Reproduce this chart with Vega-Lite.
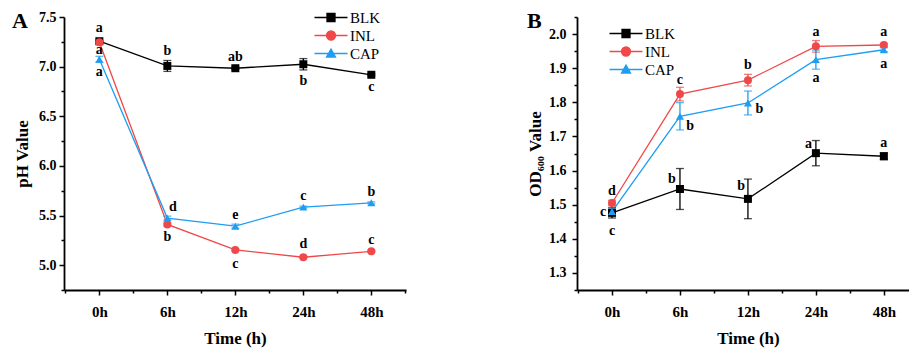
{
  "$schema": "https://vega.github.io/schema/vega-lite/v6.json",
  "background": "white",
  "padding": {"left": 12, "top": 10, "right": 0, "bottom": 4},
  "bounds": "flush",
  "spacing": 171,
  "datasets": {
    "ph": [
      {"series": "BLK", "t": 0, "value": 7.256, "sd": 0.01},
      {"series": "BLK", "t": 1, "value": 7.007, "sd": 0.055},
      {"series": "BLK", "t": 2, "value": 6.984, "sd": 0.01},
      {"series": "BLK", "t": 3, "value": 7.024, "sd": 0.057},
      {"series": "BLK", "t": 4, "value": 6.918, "sd": 0.01},
      {"series": "INL", "t": 0, "value": 7.246, "sd": 0.01},
      {"series": "INL", "t": 1, "value": 5.41, "sd": 0.015},
      {"series": "INL", "t": 2, "value": 5.154, "sd": 0.01},
      {"series": "INL", "t": 3, "value": 5.08, "sd": 0.01},
      {"series": "INL", "t": 4, "value": 5.14, "sd": 0.01},
      {"series": "CAP", "t": 0, "value": 7.074, "sd": 0.03},
      {"series": "CAP", "t": 1, "value": 5.474, "sd": 0.02},
      {"series": "CAP", "t": 2, "value": 5.393, "sd": 0.02},
      {"series": "CAP", "t": 3, "value": 5.585, "sd": 0.01},
      {"series": "CAP", "t": 4, "value": 5.628, "sd": 0.01}
    ],
    "od": [
      {"series": "BLK", "t": 0, "value": 1.476, "sd": 0.015},
      {"series": "BLK", "t": 1, "value": 1.546, "sd": 0.06},
      {"series": "BLK", "t": 2, "value": 1.517, "sd": 0.058},
      {"series": "BLK", "t": 3, "value": 1.651, "sd": 0.037},
      {"series": "BLK", "t": 4, "value": 1.642, "sd": 0.01},
      {"series": "INL", "t": 0, "value": 1.505, "sd": 0.008},
      {"series": "INL", "t": 1, "value": 1.824, "sd": 0.02},
      {"series": "INL", "t": 2, "value": 1.865, "sd": 0.017},
      {"series": "INL", "t": 3, "value": 1.964, "sd": 0.017},
      {"series": "INL", "t": 4, "value": 1.968, "sd": 0.005},
      {"series": "CAP", "t": 0, "value": 1.48, "sd": 0.01},
      {"series": "CAP", "t": 1, "value": 1.759, "sd": 0.04},
      {"series": "CAP", "t": 2, "value": 1.798, "sd": 0.035},
      {"series": "CAP", "t": 3, "value": 1.925, "sd": 0.028},
      {"series": "CAP", "t": 4, "value": 1.954, "sd": 0.006}
    ],
    "phLabels": [
      {"t": 0, "value": 7.39, "letter": "a"},
      {"t": 0, "value": 7.165, "letter": "a"},
      {"t": 0, "value": 6.947, "letter": "a"},
      {"t": 1, "value": 7.158, "letter": "b"},
      {"t": 2, "value": 7.098, "letter": "ab"},
      {"t": 3, "value": 6.853, "letter": "b"},
      {"t": 4, "value": 6.795, "letter": "c"},
      {"t": 1, "value": 5.282, "letter": "b"},
      {"t": 2, "value": 5.013, "letter": "c"},
      {"t": 3, "value": 5.215, "letter": "d"},
      {"t": 4, "value": 5.249, "letter": "c"},
      {"t": 1.08, "value": 5.585, "letter": "d"},
      {"t": 2, "value": 5.501, "letter": "e"},
      {"t": 3, "value": 5.696, "letter": "c"},
      {"t": 4, "value": 5.736, "letter": "b"}
    ],
    "odLabels": [
      {"t": 0, "value": 1.541, "letter": "d"},
      {"t": -0.13, "value": 1.478, "letter": "c"},
      {"t": 0, "value": 1.422, "letter": "c"},
      {"t": 0.88, "value": 1.575, "letter": "b"},
      {"t": 1.9, "value": 1.554, "letter": "b"},
      {"t": 2.89, "value": 1.678, "letter": "a"},
      {"t": 4, "value": 1.681, "letter": "a"},
      {"t": 1, "value": 1.866, "letter": "c"},
      {"t": 2, "value": 1.909, "letter": "b"},
      {"t": 3, "value": 2.007, "letter": "a"},
      {"t": 4, "value": 2.007, "letter": "a"},
      {"t": 1.15, "value": 1.73, "letter": "b"},
      {"t": 2.17, "value": 1.779, "letter": "b"},
      {"t": 3, "value": 1.871, "letter": "a"},
      {"t": 4, "value": 1.912, "letter": "a"}
    ]
  },
  "hconcat": [
    {
      "width": 342,
      "height": 273,
      "title": {"text": "A", "anchor": "start", "frame": "group", "dx": -52, "offset": 0, "dy": 40, "baseline": "alphabetic", "fontSize": 22, "fontWeight": "bold", "font": "Liberation Serif", "color": "black"},
      "data": {"name": "ph"},
      "encoding": {
        "x": {"field": "t", "type": "quantitative", "scale": {"domain": [-0.52, 4.51], "nice": false, "zero": false},
          "axis": {"title": "Time (h)", "values": [-0.5, 0, 0.5, 1, 1.5, 2, 2.5, 3, 3.5, 4, 4.5],
            "labelExpr": "datum.value % 1 == 0 ? ['0h','6h','12h','24h','48h'][datum.value] : ''",
            "tickSize": {"condition": {"test": "datum.value % 1 != 0", "value": 3}, "value": 5},
            "labelFontSize": 15, "labelPadding": 9, "titlePadding": 11, "labelFlush": false, "labelOverlap": false}},
        "y": {"field": "value", "type": "quantitative", "scale": {"domain": [4.75, 7.5], "nice": false, "zero": false},
          "axis": {"title": "pH Value", "values": [4.75, 5, 5.25, 5.5, 5.75, 6, 6.25, 6.5, 6.75, 7, 7.25, 7.5],
            "labelExpr": "abs(datum.value*2 - round(datum.value*2)) < 0.001 ? format(datum.value, '.1f') : ''",
            "tickSize": {"condition": {"test": "abs(datum.value*2 - round(datum.value*2)) > 0.001", "value": 3}, "value": 5},
            "labelFontSize": 14, "labelPadding": 3, "titlePadding": 7, "labelOverlap": false, "labelFlush": false}}
      },
      "layer": [
        {"mark": {"type": "line", "strokeWidth": 1.3},
          "encoding": {"color": {"field": "series", "type": "nominal", "scale": {"domain": ["BLK", "INL", "CAP"], "range": ["#000000", "#F04848", "#1E9DF2"]}, "legend": null}}},
        {"mark": {"type": "errorbar", "ticks": true, "thickness": 1.3, "size": 8},
          "encoding": {"yError": {"field": "sd"}, "color": {"field": "series", "type": "nominal", "legend": null}}},
        {"mark": {"type": "point", "filled": true, "size": 64, "opacity": 1},
          "encoding": {"color": {"field": "series", "type": "nominal", "legend": null},
            "shape": {"field": "series", "type": "nominal", "scale": {"domain": ["BLK", "INL", "CAP"], "range": ["square", "circle", "triangle-up"]}, "legend": null}}},
        {"data": {"name": "phLabels"},
          "mark": {"type": "text", "font": "Liberation Serif", "fontWeight": "bold", "fontSize": 14, "baseline": "middle", "align": "center", "color": "black"},
          "encoding": {"text": {"field": "letter"}}},
        {"mark": {"type": "point", "opacity": 0, "filled": true},
          "encoding": {
            "fill": {"field": "series", "type": "nominal", "scale": {"domain": ["BLK", "INL", "CAP"], "range": ["#000000", "#F04848", "#1E9DF2"]}},
            "stroke": {"field": "series", "type": "nominal", "scale": {"domain": ["BLK", "INL", "CAP"], "range": ["#000000", "#F04848", "#1E9DF2"]}},
            "shape": {"field": "series", "type": "nominal",
            "scale": {"domain": ["BLK", "INL", "CAP"], "range": ["M-1,0L5.6,0M1.5,-0.8L3.1,-0.8L3.1,0.8L1.5,0.8Z", "M-1,0L5.6,0M3.2,0A0.9,0.9,0,1,1,1.4,0A0.9,0.9,0,1,1,3.2,0Z", "M-1,0L5.6,0M2.3,-0.9L3.2,0.7L1.4,0.7Z"]},
            "legend": {"orient": "none", "legendX": 248, "legendY": -7, "title": null, "symbolSize": 100, "symbolStrokeWidth": 1.3, "symbolOpacity": 1, "labelFont": "Liberation Serif", "labelFontSize": 15, "labelColor": "black", "labelOffset": 23, "rowPadding": 2}}}}
      ],
      "resolve": {"scale": {"shape": "independent", "fill": "independent", "stroke": "independent"}}
    },
    {
      "width": 332,
      "height": 273,
      "title": {"text": "B", "anchor": "start", "frame": "group", "dx": -50, "offset": 0, "dy": 40, "baseline": "alphabetic", "fontSize": 22, "fontWeight": "bold", "font": "Liberation Serif", "color": "black"},
      "data": {"name": "od"},
      "encoding": {
        "x": {"field": "t", "type": "quantitative", "scale": {"domain": [-0.515, 4.37], "nice": false, "zero": false},
          "axis": {"title": "Time (h)", "values": [-0.5, 0, 0.5, 1, 1.5, 2, 2.5, 3, 3.5, 4],
            "labelExpr": "datum.value % 1 == 0 ? ['0h','6h','12h','24h','48h'][datum.value] : ''",
            "tickSize": {"condition": {"test": "datum.value % 1 != 0", "value": 3}, "value": 5},
            "labelFontSize": 15, "labelPadding": 9, "titlePadding": 11, "labelFlush": false, "labelOverlap": false, "titleX": 171}},
        "y": {"field": "value", "type": "quantitative", "scale": {"domain": [1.25, 2.05], "nice": false, "zero": false},
          "axis": {"title": "OD₆₀₀ Value", "values": [1.25, 1.3, 1.35, 1.4, 1.45, 1.5, 1.55, 1.6, 1.65, 1.7, 1.75, 1.8, 1.85, 1.9, 1.95, 2.0, 2.05],
            "labelExpr": "abs(datum.value*10 - round(datum.value*10)) < 0.001 ? format(datum.value, '.1f') : ''",
            "tickSize": {"condition": {"test": "abs(datum.value*10 - round(datum.value*10)) > 0.001", "value": 3}, "value": 5},
            "labelFontSize": 14, "labelPadding": 6, "titlePadding": 4, "labelOverlap": false, "labelFlush": false}}
      },
      "layer": [
        {"mark": {"type": "line", "strokeWidth": 1.3},
          "encoding": {"color": {"field": "series", "type": "nominal", "scale": {"domain": ["BLK", "INL", "CAP"], "range": ["#000000", "#F04848", "#1E9DF2"]}, "legend": null}}},
        {"mark": {"type": "errorbar", "ticks": true, "thickness": 1.3, "size": 8},
          "encoding": {"yError": {"field": "sd"}, "color": {"field": "series", "type": "nominal", "legend": null}}},
        {"mark": {"type": "point", "filled": true, "size": 64, "opacity": 1},
          "encoding": {"color": {"field": "series", "type": "nominal", "legend": null},
            "shape": {"field": "series", "type": "nominal", "scale": {"domain": ["BLK", "INL", "CAP"], "range": ["square", "circle", "triangle-up"]}, "legend": null}}},
        {"data": {"name": "odLabels"},
          "mark": {"type": "text", "font": "Liberation Serif", "fontWeight": "bold", "fontSize": 14, "baseline": "middle", "align": "center", "color": "black"},
          "encoding": {"text": {"field": "letter"}}},
        {"mark": {"type": "point", "opacity": 0, "filled": true},
          "encoding": {
            "fill": {"field": "series", "type": "nominal", "scale": {"domain": ["BLK", "INL", "CAP"], "range": ["#000000", "#F04848", "#1E9DF2"]}},
            "stroke": {"field": "series", "type": "nominal", "scale": {"domain": ["BLK", "INL", "CAP"], "range": ["#000000", "#F04848", "#1E9DF2"]}},
            "shape": {"field": "series", "type": "nominal",
            "scale": {"domain": ["BLK", "INL", "CAP"], "range": ["M-1,0L5.6,0M1.5,-0.8L3.1,-0.8L3.1,0.8L1.5,0.8Z", "M-1,0L5.6,0M3.2,0A0.9,0.9,0,1,1,1.4,0A0.9,0.9,0,1,1,3.2,0Z", "M-1,0L5.6,0M2.3,-0.9L3.2,0.7L1.4,0.7Z"]},
            "legend": {"orient": "none", "legendX": 30, "legendY": 9, "title": null, "symbolSize": 100, "symbolStrokeWidth": 1.3, "symbolOpacity": 1, "labelFont": "Liberation Serif", "labelFontSize": 15, "labelColor": "black", "labelOffset": 23, "rowPadding": 2}}}}
      ],
      "resolve": {"scale": {"shape": "independent", "fill": "independent", "stroke": "independent"}}
    }
  ],
  "config": {
    "font": "Liberation Serif",
    "view": {"stroke": null},
    "legend": {"symbolFillColor": "black", "symbolStrokeColor": "black"},
    "axis": {"domainColor": "black", "domainWidth": 1.8, "tickColor": "black", "tickWidth": 1.5, "grid": false,
      "labelFont": "Liberation Serif", "labelFontWeight": "bold", "labelColor": "black",
      "titleFont": "Liberation Serif", "titleFontWeight": "bold", "titleFontSize": 17, "titleColor": "black"}
  }
}
